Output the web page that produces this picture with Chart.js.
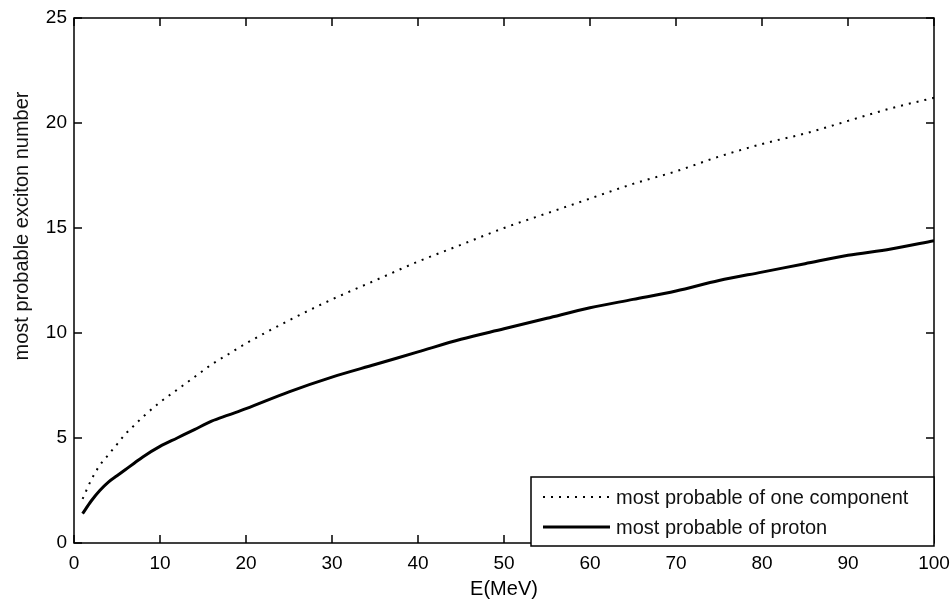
<!DOCTYPE html>
<html>
<head>
<meta charset="utf-8">
<title>most probable exciton number</title>
<script src="https://cdn.jsdelivr.net/npm/chart.js@4/dist/chart.umd.min.js"></script>
<style>
  html, body { margin: 0; padding: 0; background: #fff; }
  canvas { display: block; }
</style>
</head>
<body>
<canvas id="chart" width="951" height="605"></canvas>
<script>
// energies (MeV) and the two exciton-number curves
const energy = [1, 2, 3, 4, 5, 6, 7, 8, 10, 12, 14, 16, 18, 20, 25, 30, 35, 40, 45, 50, 55, 60, 65, 70, 75, 80, 85, 90, 95, 100];
const oneComponent = [2.1, 3.0, 3.7, 4.2, 4.7, 5.2, 5.6, 6.0, 6.7, 7.3, 7.9, 8.5, 9.0, 9.5, 10.6, 11.6, 12.5, 13.4, 14.2, 15.0, 15.7, 16.4, 17.1, 17.7, 18.4, 19.0, 19.5, 20.1, 20.7, 21.2];
const proton = [1.4, 2.0, 2.5, 2.9, 3.2, 3.5, 3.8, 4.1, 4.6, 5.0, 5.4, 5.8, 6.1, 6.4, 7.2, 7.9, 8.5, 9.1, 9.7, 10.2, 10.7, 11.2, 11.6, 12.0, 12.5, 12.9, 13.3, 13.7, 14.0, 14.4];
const seriesNames = ['most probable of one component', 'most probable of proton'];
const xTitle = 'E(MeV)';
const yTitle = 'most probable exciton number';

const FONT = 'Arial, "Liberation Sans", Helvetica, sans-serif';
const INK = '#000';

const toPoints = (ys) => ys.map((y, i) => ({ x: energy[i], y }));

// box, inward ticks, legend and y label in the old plotting-package style
const framePlugin = {
    id: 'frame',
    afterDraw(chart) {
        const { ctx, chartArea: a, scales } = chart;
        const tick = 8;
        ctx.save();
        ctx.strokeStyle = INK;
        ctx.lineWidth = 1.5;
        ctx.strokeRect(a.left, a.top, a.right - a.left, a.bottom - a.top);

        ctx.beginPath();
        scales.x.ticks.forEach(t => {
            const px = scales.x.getPixelForValue(t.value);
            ctx.moveTo(px, a.bottom); ctx.lineTo(px, a.bottom - tick);
            ctx.moveTo(px, a.top); ctx.lineTo(px, a.top + tick);
        });
        scales.y.ticks.forEach(t => {
            const py = scales.y.getPixelForValue(t.value);
            ctx.moveTo(a.left, py); ctx.lineTo(a.left + tick, py);
            ctx.moveTo(a.right, py); ctx.lineTo(a.right - tick, py);
        });
        ctx.stroke();

        // legend box in the lower right corner
        const bx = a.right - 403, by = a.bottom - 66;
        const bw = 403, bh = 69;
        ctx.fillStyle = '#fff';
        ctx.fillRect(bx, by, bw, bh);
        ctx.lineWidth = 1.5;
        ctx.strokeRect(bx, by, bw, bh);

        ctx.font = '20px ' + FONT;
        ctx.textAlign = 'left';
        ctx.textBaseline = 'middle';
        chart.data.datasets.forEach((ds, i) => {
            const ry = a.bottom - 46 + i * 30;
            ctx.beginPath();
            ctx.setLineDash(ds.borderDash || []);
            ctx.lineWidth = ds.borderWidth;
            ctx.moveTo(bx + 12, ry);
            ctx.lineTo(bx + 79, ry);
            ctx.stroke();
            ctx.setLineDash([]);
            ctx.fillStyle = '#111';
            ctx.fillText(ds.label, bx + 85, ry + 1);
        });

        // y axis label, rotated
        ctx.translate(22, 226);
        ctx.rotate(-Math.PI / 2);
        ctx.textAlign = 'center';
        ctx.font = '20px ' + FONT;
        ctx.fillText(yTitle, 0, 0);
        ctx.restore();
    }
};

new Chart(document.getElementById('chart'), {
    type: 'line',
    data: {
        datasets: [
            {
                label: seriesNames[0],
                data: toPoints(oneComponent),
                borderColor: INK,
                borderWidth: 2,
                borderDash: [2, 6],
                pointRadius: 0,
                cubicInterpolationMode: 'monotone',
                fill: false
            },
            {
                label: seriesNames[1],
                data: toPoints(proton),
                borderColor: INK,
                borderWidth: 3,
                pointRadius: 0,
                cubicInterpolationMode: 'monotone',
                fill: false
            }
        ]
    },
    options: {
        responsive: false,
        animation: false,
        layout: { padding: { top: 18, right: 17, left: 0, bottom: 0 } },
        plugins: {
            legend: { display: false },
            tooltip: { enabled: false }
        },
        scales: {
            x: {
                type: 'linear',
                min: 0,
                max: 100,
                afterFit(scale) {
                    scale.height = 62;
                    // the labels fit inside the fixed padding, keep the plot wide
                    scale.paddingLeft = 0;
                    scale.paddingRight = 0;
                },
                grid: { display: false, drawTicks: false },
                border: { display: false },
                ticks: { stepSize: 10, color: INK, padding: 9, font: { family: FONT, size: 19 } },
                title: {
                    display: true,
                    text: xTitle,
                    color: INK,
                    font: { family: FONT, size: 20 },
                    padding: { top: 0, bottom: 4 }
                }
            },
            y: {
                type: 'linear',
                min: 0,
                max: 25,
                afterFit(scale) {
                    scale.width = 74;
                    scale.paddingTop = 0;
                    scale.paddingBottom = 0;
                },
                grid: { display: false, drawTicks: false },
                border: { display: false },
                ticks: { stepSize: 5, color: INK, padding: 7, font: { family: FONT, size: 19 } }
            }
        }
    },
    plugins: [framePlugin]
});
</script>
</body>
</html>
